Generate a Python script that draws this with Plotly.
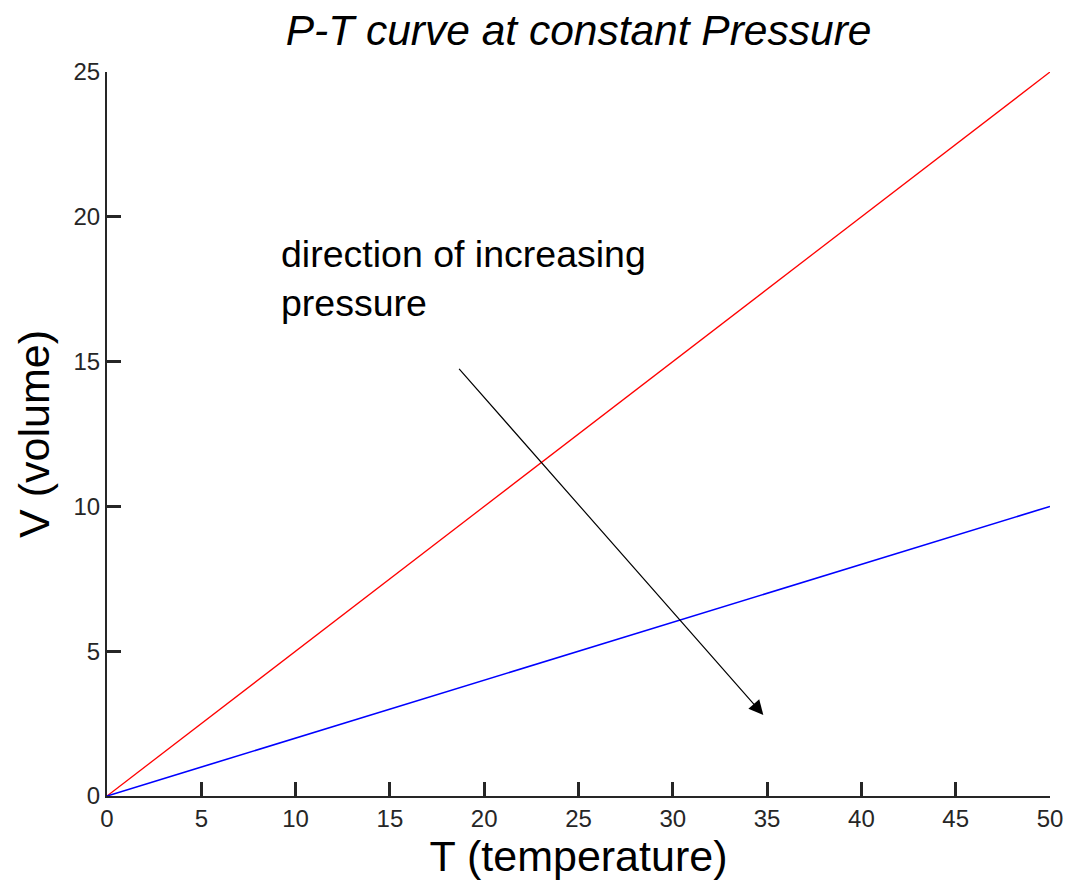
import plotly.graph_objects as go

# Data
T_points = [0, 10, 20, 30, 40, 50]
V_low_pressure = [0, 5, 10, 15, 20, 25]
V_high_pressure = [0, 2, 4, 6, 8, 10]
x_ticks = [0, 5, 10, 15, 20, 25, 30, 35, 40, 45, 50]
y_ticks = [0, 5, 10, 15, 20, 25]
arrow_start = (18.6, 14.8)
arrow_end = (34.8, 2.8)

FONT = "Arial, Liberation Sans, sans-serif"

fig = go.Figure()
fig.add_trace(go.Scatter(x=T_points, y=V_low_pressure, mode="lines",
                         line=dict(color="#ff0000", width=1.3), showlegend=False))
fig.add_trace(go.Scatter(x=T_points, y=V_high_pressure, mode="lines",
                         line=dict(color="#0000ff", width=1.6), showlegend=False))

fig.add_annotation(x=arrow_end[0], y=arrow_end[1], ax=arrow_start[0], ay=arrow_start[1],
                   xref="x", yref="y", axref="x", ayref="y", text="",
                   showarrow=True, arrowhead=2, arrowsize=2.4, arrowwidth=1.2,
                   arrowcolor="#000000")
fig.add_annotation(x=9.1, y=19.5, xref="x", yref="y", xanchor="left", yanchor="top",
                   text="direction of increasing<br>pressure", showarrow=False, align="left",
                   font=dict(family=FONT, size=37.5, color="#000000"))

fig.update_layout(
    template="simple_white",
    width=1070, height=888,
    margin=dict(l=107, r=20, t=72, b=92),
    paper_bgcolor="white", plot_bgcolor="white",
    title=dict(text="<i>P-T curve at constant Pressure</i>", x=0.5407, xanchor="center",
               y=1 - 30 / 888, yanchor="middle", yref="container",
               font=dict(family=FONT, size=42.5, color="#000000")),
    xaxis=dict(range=[0, 50], tickvals=x_ticks, automargin=False,
               ticks="inside", ticklen=14, tickwidth=2.5, tickcolor="#262626",
               showline=True, linecolor="#262626", linewidth=2,
               showgrid=False,
               tickfont=dict(family=FONT, size=24, color="#262626"),
               title=dict(text="T (temperature)", font=dict(family=FONT, size=43, color="#000000"),
                          standoff=10)),
    yaxis=dict(range=[0, 25], tickvals=y_ticks, automargin=False,
               ticks="inside", ticklen=14, tickwidth=2.5, tickcolor="#262626",
               showline=True, linecolor="#262626", linewidth=2,
               showgrid=False,
               tickfont=dict(family=FONT, size=24, color="#262626"),
               title=dict(text="V (volume)", font=dict(family=FONT, size=43, color="#000000"),
                          standoff=10)),
)

fig.write_html("out.html")
